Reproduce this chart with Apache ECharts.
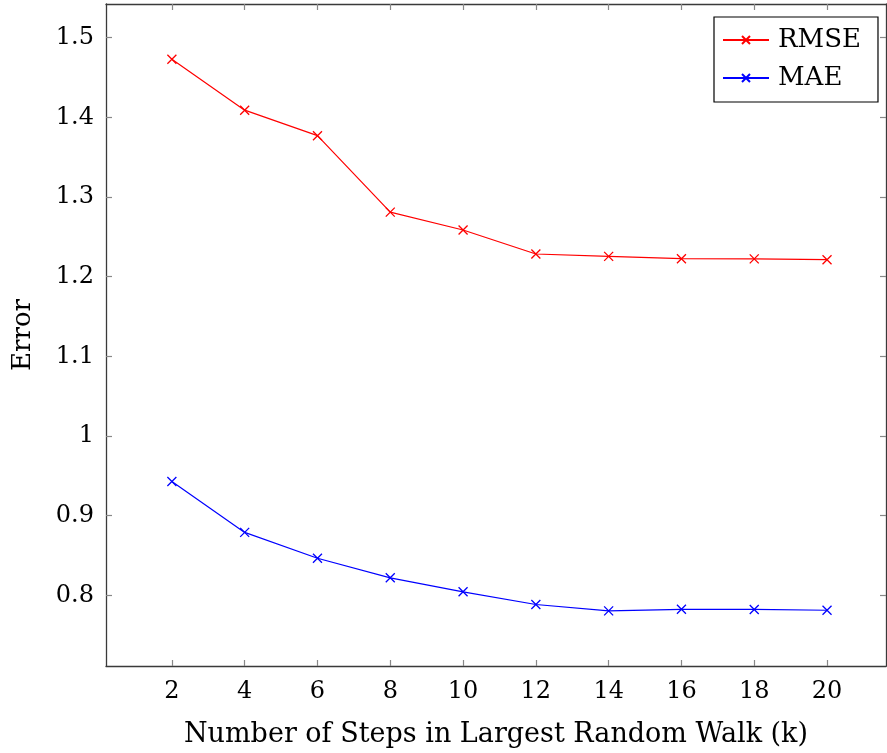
<!DOCTYPE html>
<html>
<head>
<meta charset="utf-8">
<script src="https://cdn.jsdelivr.net/npm/echarts@6/dist/echarts.min.js"></script>
<style>
  html, body { margin: 0; padding: 0; background: #fff; }
  #chart { width: 887px; height: 753px; }
</style>
</head>
<body>
<div id="chart"></div>
<script>
// steps k and the two error series
const steps = [2, 4, 6, 8, 10, 12, 14, 16, 18, 20];
const rmse = [1.473, 1.409, 1.377, 1.281, 1.2586, 1.2285, 1.2255, 1.2226, 1.2224, 1.2213];
const mae = [0.943, 0.879, 0.8466, 0.822, 0.8044, 0.7885, 0.7805, 0.7825, 0.7823, 0.7813];
const xTicks = [2, 4, 6, 8, 10, 12, 14, 16, 18, 20];
const yTicks = [0.8, 0.9, 1, 1.1, 1.2, 1.3, 1.4, 1.5];

const FONT = '"DejaVu Serif", "Liberation Serif", serif';
const cross = 'path://M0,0L10,10M10,0L0,10';

let chart = echarts.init(document.getElementById('chart'));

function pairs(ys) {
  return steps.map((x, i) => [x, ys[i]]);
}

const xRange = {min: 0.19, max: 21.62};
const yRange = {min: 0.7113, max: 1.5423};
const boxLine = {show: true, lineStyle: {color: '#3a3a3a', width: 1.3}};
const tickStyle = {lineStyle: {color: '#888', width: 1.2}};

chart.setOption({
  animation: false,
  grid: {left: 106, right: 1, top: 4, bottom: 87},
  legend: {
    left: 714, top: 17, orient: 'vertical',
    padding: [10, 17, 11, 8],
    itemGap: 12,
    itemWidth: 46, itemHeight: 10,
    borderColor: '#000', borderWidth: 1.2,
    textStyle: {fontFamily: FONT, fontSize: 26, color: '#000', padding: [0, 0, 0, 4]},
    data: ['RMSE', 'MAE']
  },
  xAxis: [
    {
      type: 'value', position: 'bottom', ...xRange,
      name: 'Number of Steps in Largest Random Walk (k)',
      nameLocation: 'middle', nameGap: 55,
      nameTextStyle: {fontFamily: FONT, fontSize: 27, color: '#000'},
      axisLine: boxLine,
      axisTick: {show: true, inside: true, length: 6, customValues: xTicks, ...tickStyle},
      axisLabel: {customValues: xTicks, fontFamily: FONT, fontSize: 24, color: '#000', margin: 14},
      splitLine: {show: false}
    },
    {
      type: 'value', position: 'top', ...xRange,
      axisLine: boxLine,
      axisTick: {show: true, inside: true, length: 6, customValues: xTicks, ...tickStyle},
      axisLabel: {show: false},
      splitLine: {show: false}
    }
  ],
  yAxis: [
    {
      type: 'value', position: 'left', ...yRange,
      name: 'Error', nameLocation: 'middle', nameGap: 70,
      nameTextStyle: {fontFamily: FONT, fontSize: 26, color: '#000'},
      axisLine: boxLine,
      axisTick: {show: true, inside: true, length: 6, customValues: yTicks, ...tickStyle},
      axisLabel: {
        customValues: yTicks, fontFamily: FONT, fontSize: 24, color: '#000', margin: 12,
        formatter: v => String(Math.round(v * 10) / 10)
      },
      splitLine: {show: false}
    },
    {
      type: 'value', position: 'right', ...yRange,
      axisLine: boxLine,
      axisTick: {show: true, inside: true, length: 6, customValues: yTicks, ...tickStyle},
      axisLabel: {show: false},
      splitLine: {show: false}
    }
  ],
  series: [
    {
      name: 'RMSE', type: 'line', data: pairs(rmse),
      symbol: cross, symbolSize: 9, showAllSymbol: true,
      lineStyle: {color: '#ff0000', width: 1.2},
      itemStyle: {color: '#ff0000', borderColor: '#ff0000', borderWidth: 1.3}
    },
    {
      name: 'MAE', type: 'line', data: pairs(mae),
      symbol: cross, symbolSize: 9, showAllSymbol: true,
      lineStyle: {color: '#0000ff', width: 1.2},
      itemStyle: {color: '#0000ff', borderColor: '#0000ff', borderWidth: 1.3}
    }
  ]
});
</script>
</body>
</html>
